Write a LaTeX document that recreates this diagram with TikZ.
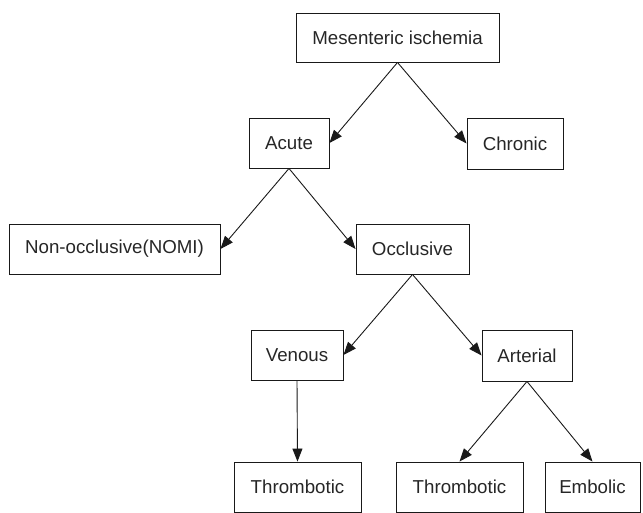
\documentclass[tikz,border=0pt]{standalone}
\usepackage{fontspec}
\setmainfont{Liberation Sans}
\usetikzlibrary{arrows.meta}
\begin{document}
\begin{tikzpicture}[x=1pt,y=-1pt,
  box/.style={draw=black!90, line width=0.9pt, inner sep=0pt, font=\fontsize{18.7}{21}\selectfont, text=black!85},
  arr/.style={draw=black!90, line width=0.9pt, -{Triangle[length=13pt,width=10pt]}}]
\useasboundingbox (0,0) rectangle (643,513);
\node[box, minimum width=203pt, minimum height=49pt] (m) at (397.5,37.5) {Mesenteric ischemia};
\node[box, minimum width=80pt, minimum height=50pt] (acute) at (289,143) {Acute};
\node[box, minimum width=96pt, minimum height=51pt] (chronic) at (515,143.5) {Chronic};
\node[box, minimum width=211pt, minimum height=50pt] (nomi) at (114.5,249) {Non-occlusive(NOMI)};
\node[box, minimum width=113pt, minimum height=50pt] (occ) at (412.5,249) {Occlusive};
\node[box, minimum width=92pt, minimum height=50pt] (ven) at (297,355) {Venous};
\node[box, minimum width=90pt, minimum height=51pt] (art) at (527,355.5) {Arterial};
\node[box, minimum width=127pt, minimum height=50pt] (thl) at (297.5,487) {Thrombotic};
\node[box, minimum width=127pt, minimum height=50pt] (thr) at (459.5,487) {Thrombotic};
\node[box, minimum width=95pt, minimum height=50pt] (emb) at (592.5,487) {Embolic};
\draw[arr] (m.south) -- (acute.east);
\draw[arr] (m.south) -- (chronic.west);
\draw[arr] (acute.south) -- (nomi.east);
\draw[arr] (acute.south) -- (occ.west);
\draw[arr] (occ.south) -- (ven.east);
\draw[arr] (occ.south) -- (art.west);
\draw[arr] (ven.south) -- (thl.north);
\draw[arr] (art.south) -- (thr.north);
\draw[arr] (art.south) -- (emb.north);
\end{tikzpicture}
\end{document}
